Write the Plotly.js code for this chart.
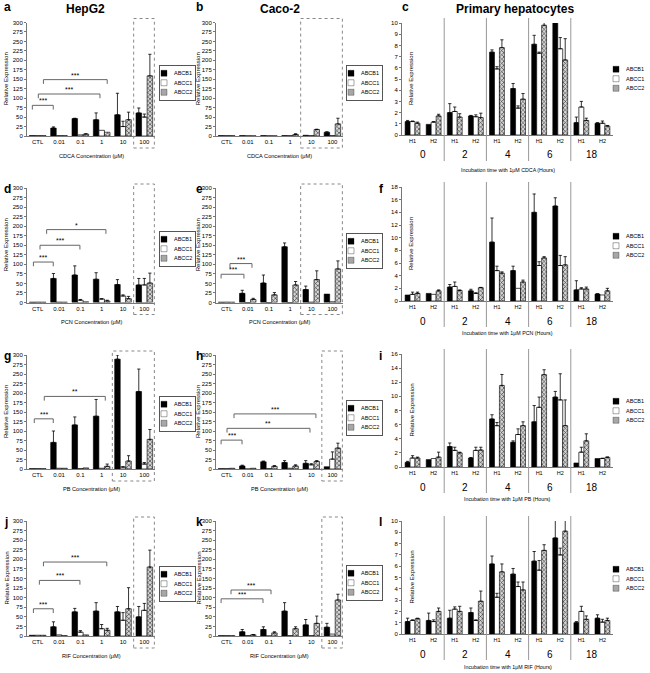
<!DOCTYPE html>
<html><head><meta charset="utf-8">
<script src="https://cdn.plot.ly/plotly-3.0.1.min.js"></script>
<style>html,body{margin:0;padding:0;background:#fff}</style>
</head><body><div id="chart" style="width:650px;height:673px"></div>
<script>
const FONT = 'Arial, "Liberation Sans", sans-serif';
const seriesNames = ["ABCB1", "ABCC1", "ABCC2"];
const concLabels = ["CTL", "0.01", "0.1", "1", "10", "100"];
const hourGroups = ["0", "2", "4", "6", "18"];
const donorLabels = ["H1", "H2"];

// ---- a: HepG2, CDCA ----
const a_ABCB1 = [1, 21, 46, 43, 56, 61];
const a_ABCB1_err = [0, 3, 1, 18, 57, 13];
const a_ABCC1 = [1, 1, 3, 15, 25, 50];
const a_ABCC1_err = [0, 0, 0, 0, 14, 8];
const a_ABCC2 = [1, 1, 5, 10, 43, 159];
const a_ABCC2_err = [0, 0, 1, 0, 20, 57];
const a_sig = [[-0.25, 0.73, 81, "***"], [0.03, 2.92, 111, "***"], [0.27, 3.26, 149, "***"]];

// ---- b: Caco-2, CDCA ----
const b_ABCB1 = [1, 1, 1, 1, 2, 10];
const b_ABCB1_err = [0, 0, 0, 0, 0, 1];
const b_ABCC1 = [1, 0.5, 0.5, 1, 1, 1];
const b_ABCC1_err = [0, 0, 0, 0, 0, 0];
const b_ABCC2 = [1, 0.5, 0.5, 4, 17, 32];
const b_ABCC2_err = [0, 0, 0, 2, 1, 15];
const b_sig = [];

// ---- c: primary hepatocytes, CDCA ----
const c_ABCB1 = [1.2, 0.95, 2.0, 1.7, 7.4, 4.15, 8.1, 10.2, 1.1, 1.05];
const c_ABCB1_err = [0.1, 0, 0.8, 0.05, 0.2, 0.45, 0.8, 0, 0.5, 0.05];
const c_ABCC1 = [1.2, 1.15, 2.1, 1.63, 5.9, 2.4, 7.3, 7.7, 2.5, 1.05];
const c_ABCC1_err = [0.05, 0.05, 0.4, 0.17, 0.2, 0.2, 0.1, 1.0, 0.5, 0.2];
const c_ABCC2 = [1.05, 1.7, 1.6, 1.55, 7.8, 3.2, 9.8, 6.7, 1.3, 0.8];
const c_ABCC2_err = [0.1, 0.15, 0.3, 0.4, 0.7, 0.5, 0.3, 1.9, 0.2, 0.05];

// ---- d: HepG2, PCN ----
const d_ABCB1 = [1, 63, 72, 61, 47, 46];
const d_ABCB1_err = [0, 13, 24, 17, 13, 17];
const d_ABCC1 = [1, 1, 6, 9, 17, 46];
const d_ABCC1_err = [0, 0, 2, 1, 3, 17];
const d_ABCC2 = [1, 1, 2, 4, 10, 51];
const d_ABCC2_err = [0, 0, 0, 2, 6, 26];
const d_sig = [[-0.2, 0.73, 106, "***"], [0.11, 1.98, 150, "***"], [0.42, 3.2, 191, "*"]];

// ---- e: Caco-2, PCN ----
const e_ABCB1 = [1, 24, 51, 146, 34, 22];
const e_ABCB1_err = [0, 8, 21, 10, 9, 0];
const e_ABCC1 = [1, 0, 0, 0, 1, 2];
const e_ABCC1_err = [0, 0, 0, 0, 0, 0];
const e_ABCC2 = [1, 8, 20, 46, 60, 88];
const e_ABCC2_err = [0, 3, 6, 9, 23, 21];
const e_sig = [[-0.26, 0.82, 74, "***"], [0.16, 1.2, 102, "***"]];

// ---- f: primary hepatocytes, PCN ----
const f_ABCB1 = [0.95, 1.2, 2.2, 1.6, 9.3, 4.8, 14.0, 15.0, 1.75, 1.1];
const f_ABCB1_err = [0, 0, 0.4, 0.25, 3.8, 0.7, 2.9, 1.3, 1.45, 0.05];
const f_ABCC1 = [1.05, 1.05, 2.3, 1.2, 4.8, 2.0, 5.6, 5.6, 1.9, 0.95];
const f_ABCC1_err = [0.35, 0, 0.7, 0.1, 0.7, 0, 0.6, 1.6, 0.2, 0];
const f_ABCC2 = [1.2, 1.6, 1.65, 2.1, 4.4, 3.0, 6.8, 5.7, 1.9, 1.6];
const f_ABCC2_err = [0.2, 0.15, 0.1, 0.05, 0.2, 0.3, 0.2, 1.3, 0.3, 0.4];

// ---- g: HepG2, PB ----
const g_ABCB1 = [1, 70, 116, 139, 289, 204];
const g_ABCB1_err = [0, 30, 21, 44, 11, 59];
const g_ABCC1 = [1, 2, 1, 2, 5, 13];
const g_ABCC1_err = [0, 0, 0, 0, 1, 4];
const g_ABCC2 = [1, 2, 3, 7, 21, 78];
const g_ABCC2_err = [0, 0, 0, 6, 14, 26];
const g_sig = [[-0.16, 0.73, 132, "***"], [0.31, 3.17, 191, "**"]];

// ---- h: Caco-2, PB ----
const h_ABCB1 = [1, 8, 19, 17, 15, 6];
const h_ABCB1_err = [0, 2, 2, 5, 7, 0];
const h_ABCC1 = [1, 0, 1, 2, 11, 26];
const h_ABCC1_err = [0, 0, 0, 0, 3, 19];
const h_ABCC2 = [2, 2, 7, 8, 20, 55];
const h_ABCC2_err = [0, 0, 2, 3, 2, 13];
const h_sig = [[-0.26, 0.73, 76, "***"], [0.02, 3.94, 107, "**"], [0.35, 4.22, 145, "***"]];

// ---- i: primary hepatocytes, PB ----
const i_ABCB1 = [0.66, 1.05, 2.9, 1.27, 6.8, 3.5, 6.4, 9.9, 0.57, 1.2];
const i_ABCB1_err = [0.14, 0, 0.5, 0.08, 0.6, 0.2, 2.3, 0.8, 0, 0];
const i_ABCC1 = [1.27, 1.2, 2.35, 2.35, 5.85, 4.6, 8.45, 9.5, 2.1, 1.2];
const i_ABCC1_err = [0.33, 0, 0.45, 0.45, 0.45, 0.8, 1.45, 3.7, 0.7, 0.05];
const i_ABCC2 = [1.27, 1.4, 2.0, 2.4, 11.55, 5.85, 13.07, 5.85, 3.7, 1.37];
const i_ABCC2_err = [0.13, 0.7, 0.1, 0.4, 1.55, 0.55, 0.7, 3.65, 1.0, 0.05];

// ---- j: HepG2, RIF ----
const j_ABCB1 = [2, 24, 63, 65, 63, 50];
const j_ABCB1_err = [0, 13, 9, 22, 14, 27];
const j_ABCC1 = [2, 3, 10, 19, 41, 67];
const j_ABCC1_err = [0, 0, 4, 11, 20, 18];
const j_ABCC2 = [2, 1, 3, 15, 71, 180];
const j_ABCC2_err = [0, 0, 0, 5, 55, 44];
const j_sig = [[-0.2, 0.73, 71, "***"], [0.08, 1.98, 145, "***"], [0.27, 3.24, 193, "***"]];

// ---- k: Caco-2, RIF ----
const k_ABCB1 = [1, 11, 17, 65, 29, 23];
const k_ABCB1_err = [0, 6, 7, 22, 14, 10];
const k_ABCC1 = [1, 1, 0, 1, 1, 5];
const k_ABCC1_err = [0, 0, 0, 0, 0, 0];
const k_ABCC2 = [1, 3, 8, 19, 33, 94];
const k_ABCC2_err = [0, 1, 3, 5, 19, 15];
const k_sig = [[-0.26, 1.72, 97, "***"], [0.21, 2.1, 120, "***"]];

// ---- l: primary hepatocytes, RIF ----
const l_ABCB1 = [1.1, 1.2, 1.4, 1.9, 6.2, 5.3, 6.45, 8.5, 1.0, 1.4];
const l_ABCB1_err = [0.3, 0.65, 0.7, 0.4, 0.7, 0.5, 0.85, 1.6, 0.1, 0.3];
const l_ABCC1 = [1.2, 1.1, 2.2, 1.2, 3.25, 4.2, 5.65, 7.0, 2.0, 1.05];
const l_ABCC1_err = [0.05, 0.15, 0.2, 0.05, 0.35, 0.4, 0.85, 0.6, 0.45, 0.25];
const l_ABCC2 = [1.35, 2.0, 2.0, 2.9, 5.5, 3.9, 7.4, 9.1, 1.3, 1.2];
const l_ABCC2_err = [0.05, 0.3, 0.45, 0.9, 0.7, 0.7, 0.5, 1.2, 0.3, 0.2];

const colTitles = ["HepG2", "Caco-2", "Primary hepatocytes"];

// ---------- panel settings (layout only) ----------
const panels = [
  {key: 'a', data: [[a_ABCB1, a_ABCB1_err], [a_ABCC1, a_ABCC1_err], [a_ABCC2, a_ABCC2_err]], ymax: 300, dtick: 25, xtitle: 'CDCA Concentration (\u03bcM)', boxFrom: 5, sig: a_sig, leg: [159, 65]},
  {key: 'b', data: [[b_ABCB1, b_ABCB1_err], [b_ABCC1, b_ABCC1_err], [b_ABCC2, b_ABCC2_err]], ymax: 300, dtick: 25, xtitle: 'CDCA Concentration (\u03bcM)', boxFrom: 4, sig: b_sig, leg: [346, 65]},
  {key: 'c', data: [[c_ABCB1, c_ABCB1_err], [c_ABCC1, c_ABCC1_err], [c_ABCC2, c_ABCC2_err]], ymax: 10, dtick: 1, xtitle: 'Incubation time with 1\u03bcM CDCA (Hours)', leg: [612, 62]},
  {key: 'd', data: [[d_ABCB1, d_ABCB1_err], [d_ABCC1, d_ABCC1_err], [d_ABCC2, d_ABCC2_err]], ymax: 300, dtick: 25, xtitle: 'PCN Concentration (\u03bcM)', boxFrom: 5, sig: d_sig, leg: [159, 231]},
  {key: 'e', data: [[e_ABCB1, e_ABCB1_err], [e_ABCC1, e_ABCC1_err], [e_ABCC2, e_ABCC2_err]], ymax: 300, dtick: 25, xtitle: 'PCN Concentration (\u03bcM)', boxFrom: 4, sig: e_sig, leg: [346, 233]},
  {key: 'f', data: [[f_ABCB1, f_ABCB1_err], [f_ABCC1, f_ABCC1_err], [f_ABCC2, f_ABCC2_err]], ymax: 18, dtick: 2, xtitle: 'Incubation time with 1\u03bcM PCN (Hours)', leg: [612, 229]},
  {key: 'g', data: [[g_ABCB1, g_ABCB1_err], [g_ABCC1, g_ABCC1_err], [g_ABCC2, g_ABCC2_err]], ymax: 300, dtick: 25, xtitle: 'PB Concentration (\u03bcM)', boxFrom: 4, sig: g_sig, leg: [159, 396]},
  {key: 'h', data: [[h_ABCB1, h_ABCB1_err], [h_ABCC1, h_ABCC1_err], [h_ABCC2, h_ABCC2_err]], ymax: 300, dtick: 25, xtitle: 'PB Concentration (\u03bcM)', boxFrom: 5, sig: h_sig, leg: [346, 400]},
  {key: 'i', data: [[i_ABCB1, i_ABCB1_err], [i_ABCC1, i_ABCC1_err], [i_ABCC2, i_ABCC2_err]], ymax: 16, dtick: 2, xtitle: 'Incubation time with 1\u03bcM PB (Hours)', leg: [612, 394]},
  {key: 'j', data: [[j_ABCB1, j_ABCB1_err], [j_ABCC1, j_ABCC1_err], [j_ABCC2, j_ABCC2_err]], ymax: 300, dtick: 25, xtitle: 'RIF Concentration (\u03bcM)', boxFrom: 5, sig: j_sig, leg: [159, 566]},
  {key: 'k', data: [[k_ABCB1, k_ABCB1_err], [k_ABCC1, k_ABCC1_err], [k_ABCC2, k_ABCC2_err]], ymax: 300, dtick: 25, xtitle: 'RIF Concentration (\u03bcM)', boxFrom: 5, sig: k_sig, leg: [346, 565]},
  {key: 'l', data: [[l_ABCB1, l_ABCB1_err], [l_ABCC1, l_ABCC1_err], [l_ABCC2, l_ABCC2_err]], ymax: 10, dtick: 1, xtitle: 'Incubation time with 1\u03bcM RIF (Hours)', leg: [612, 562]}
];

const W = 650, H = 673;
const colX = [[27, 155], [216, 343], [402, 613]];
const rowYconc = [[22.5, 136], [188, 302.5], [355, 469], [521, 636]];
const rowYtime = [[23, 135], [187, 301], [354, 467], [521, 634]];
const yTitleX = [6, 198, 411];
const letterPos = [[2, 7], [194, 7], [400, 7], [2, 189], [194, 189], [377, 189], [2, 356], [194, 356], [377, 356], [2, 522], [194, 522], [377, 522]];
const timeTitleOff = [35, 32, 32, 33];
const LEG_SCALE = 0.5;

const barStyles = [
  {color: '#000', line: {color: '#000', width: 0.6}},
  {color: '#fff', line: {color: '#000', width: 0.7}},
  {color: '#c8c8c8', line: {color: '#000', width: 0.6},
   pattern: {shape: 'x', fgcolor: '#2a2a2a', bgcolor: '#d6d6d6', size: 3, solidity: 0.35, fillmode: 'replace'}}
];

const traces = [];
const layout = {
  width: W, height: H, margin: {l: 0, r: 0, t: 0, b: 0},
  paper_bgcolor: '#fff', plot_bgcolor: 'rgba(0,0,0,0)',
  font: {family: FONT, size: 6, color: '#000'},
  showlegend: true, barmode: 'group',
  annotations: [], shapes: []
};

panels.forEach((p, pi) => {
  const col = pi % 3, row = Math.floor(pi / 3);
  const s = pi === 0 ? '' : String(pi + 1);
  const xa = 'x' + s, ya = 'y' + s;
  const legId = 'legend' + s;
  const isTime = col === 2;
  const cats = isTime ? hourGroups.flatMap(g => donorLabels.map(d => g + '/' + d)) : concLabels;
  const ticktext = isTime ? cats.map(c => c.split('/')[1]) : cats;
  const xs = cats.map((_, k) => k);
  const [x0, x1] = colX[col];
  const [y0, y1] = (isTime ? rowYtime : rowYconc)[row];
  const bw = isTime ? 0.235 : 0.26;

  p.data.forEach(([vals, errs], si) => {
    traces.push({
      type: 'bar', x: xs, y: vals, name: seriesNames[si],
      xaxis: xa, yaxis: ya, legend: legId,
      width: bw, offset: -1.5 * bw + si * bw,
      marker: barStyles[si],
      error_y: {
        type: 'data', symmetric: false,
        array: errs.map(e => e > 0 ? e : NaN),
        arrayminus: errs.map(e => e > 0 ? 0 : NaN),
        color: '#000', thickness: 0.8, width: 1.6
      },
      hoverinfo: 'skip'
    });
  });

  layout['xaxis' + s] = {
    domain: [x0 / W, x1 / W], anchor: ya, range: [-0.5, cats.length - 0.5],
    tickmode: 'array', tickvals: xs, ticktext: ticktext,
    showline: true, linecolor: '#777', linewidth: 1, ticks: '',
    showgrid: false, zeroline: false, fixedrange: true,
    tickfont: {size: isTime ? 5.5 : 6, family: FONT, color: '#000'}
  };
  layout['yaxis' + s] = {
    domain: [1 - y1 / H, 1 - y0 / H], anchor: xa, range: [0, p.ymax],
    tick0: 0, dtick: p.dtick, ticks: 'outside', ticklen: 2, tickcolor: '#777',
    showline: true, linecolor: '#777', linewidth: 1,
    showgrid: false, zeroline: false, fixedrange: true,
    tickfont: {size: 6, family: FONT, color: '#000'}
  };

  layout[legId] = {
    x: Math.min(p.leg[0], 560) / W, y: 1 - p.leg[1] / H, xanchor: 'left', yanchor: 'top',
    bgcolor: '#fff', bordercolor: isTime ? 'rgba(0,0,0,0)' : '#555', borderwidth: isTime ? 0 : 2,
    font: {size: 11, family: FONT, color: '#000'}, indentation: -12, tracegroupgap: 0
  };

  // y title
  layout.annotations.push({
    text: 'Relative Expression', xref: 'paper', yref: 'paper',
    x: yTitleX[col] / W, y: 1 - (y0 + y1) / 2 / H, textangle: -90,
    showarrow: false, font: {size: 6, family: FONT}, xanchor: 'center', yanchor: 'middle'
  });
  // x title
  const off = isTime ? timeTitleOff[row] : 19.5;
  layout.annotations.push({
    text: p.xtitle, xref: 'paper', yref: 'paper',
    x: (x0 + x1) / 2 / W, y: 1 - (y1 + off) / H,
    showarrow: false, font: {size: isTime ? 5.3 : 5.6, family: FONT}, xanchor: 'center', yanchor: 'middle'
  });
  // panel letter
  layout.annotations.push({
    text: '<b>' + p.key + '</b>', xref: 'paper', yref: 'paper',
    x: letterPos[pi][0] / W, y: 1 - letterPos[pi][1] / H,
    showarrow: false, font: {size: 12, family: FONT}, xanchor: 'left', yanchor: 'middle'
  });

  if (isTime) {
    hourGroups.forEach((g, gi) => {
      layout.annotations.push({
        text: g, xref: xa, yref: 'paper', x: gi * donorLabels.length + 0.5,
        y: 1 - (y1 + 20) / H, showarrow: false, font: {size: 10, family: FONT},
        xanchor: 'center', yanchor: 'middle'
      });
      if (gi < hourGroups.length - 1) {
        const fx = (gi + 1) * donorLabels.length / cats.length;
        layout.shapes.push({
          type: 'line', xref: xa + ' domain', yref: 'paper',
          x0: fx, x1: fx, y0: 1 - (y1 + 26) / H, y1: 1 - (y0 - 5) / H,
          line: {color: '#999', width: 1}
        });
      }
    });
  } else {
    // dashed box around highest concentrations
    layout.shapes.push({
      type: 'rect', xref: xa + ' domain', yref: 'paper',
      x0: p.boxFrom / cats.length, x1: 0.995,
      y0: 1 - (y1 + 12) / H, y1: 1 - (y0 - 4) / H,
      line: {color: '#888', width: 1, dash: 'dot'}, fillcolor: 'rgba(0,0,0,0)'
    });
    // significance brackets
    const drop = p.ymax * 0.037;
    p.sig.forEach(([bx0, bx1, by, lab]) => {
      const ln = {color: '#666', width: 1};
      layout.shapes.push({type: 'line', xref: xa, yref: ya, x0: bx0, x1: bx1, y0: by, y1: by, line: ln});
      layout.shapes.push({type: 'line', xref: xa, yref: ya, x0: bx0, x1: bx0, y0: by, y1: by - drop, line: ln});
      layout.shapes.push({type: 'line', xref: xa, yref: ya, x0: bx1, x1: bx1, y0: by, y1: by - drop, line: ln});
      layout.annotations.push({
        text: lab, xref: xa, yref: ya, x: (bx0 + bx1) / 2, y: by, yshift: -1,
        showarrow: false, font: {size: 7, family: FONT}, xanchor: 'center', yanchor: 'bottom'
      });
    });
  }
});

// column titles
const colTitleX = [85, 280, 515];
colTitles.forEach((t, ci) => {
  layout.annotations.push({
    text: '<b>' + t + '</b>', xref: 'paper', yref: 'paper', x: colTitleX[ci] / W, y: 1 - 9 / H,
    showarrow: false, font: {size: 12, family: FONT}, xanchor: 'center', yanchor: 'middle'
  });
});

Plotly.newPlot('chart', traces, layout, {staticPlot: true, displayModeBar: false}).then(gd => {
  panels.forEach((p, pi) => {
    const id = pi === 0 ? 'legend' : 'legend' + (pi + 1);
    const g = gd.querySelector('.infolayer > g.' + id);
    if (g) g.setAttribute('transform', 'translate(' + p.leg[0] + ',' + p.leg[1] + ') scale(' + LEG_SCALE + ')');
  });
});
</script>
</body></html>
